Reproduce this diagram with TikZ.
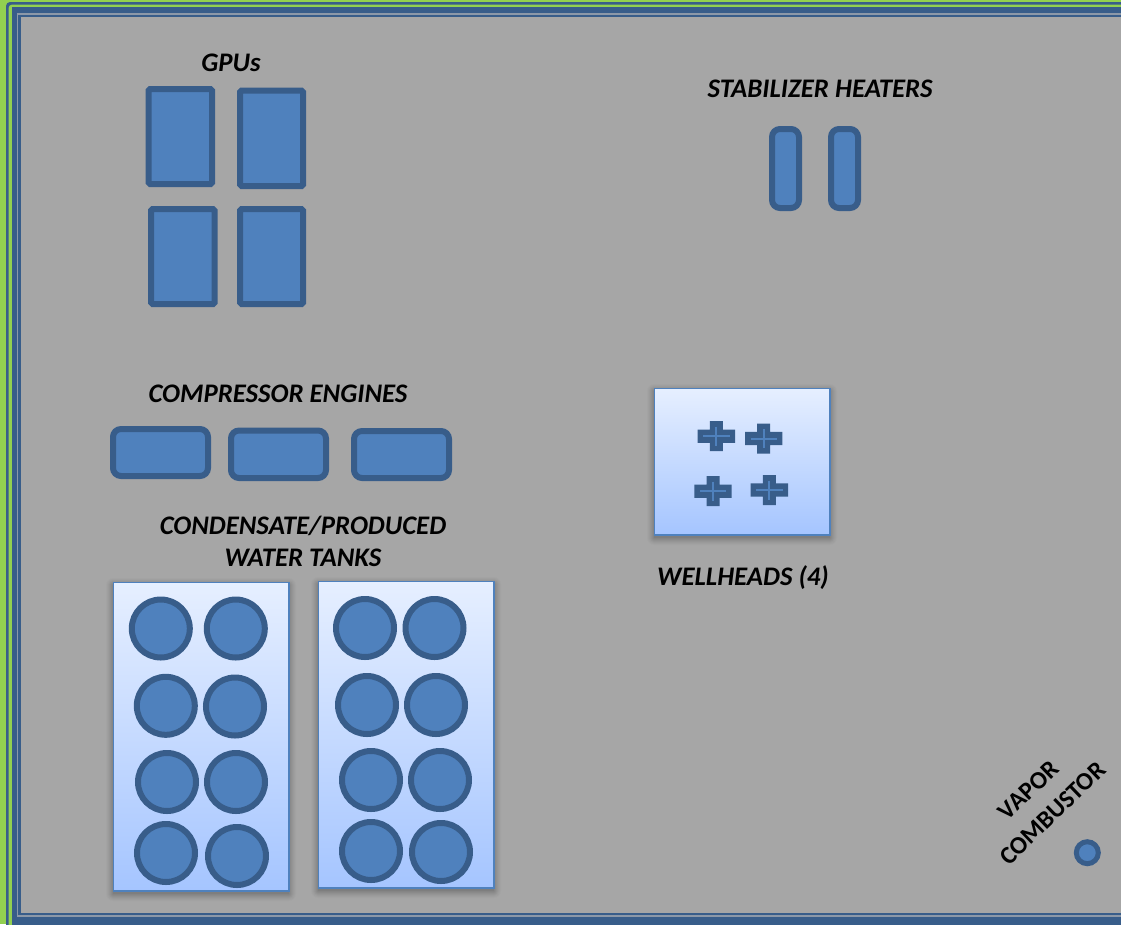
\documentclass[tikz,border=0pt]{standalone}
\usepackage{fontspec}
\setmainfont{Carlito}
\definecolor{bgc}{HTML}{A6A6A6}
\definecolor{fillb}{HTML}{4F81BD}
\definecolor{edgeb}{HTML}{385D8A}
\definecolor{greenf}{HTML}{92D050}
\definecolor{lightline}{HTML}{8C98A8}
\definecolor{paneltop}{HTML}{E6EFFF}
\definecolor{panelbot}{HTML}{A5C5FF}
\tikzset{
  lbl/.style={font=\fontsize{26.8}{26.8}\selectfont\bfseries\itshape, text=black, inner sep=0pt, align=center},
  rotlbl/.style={font=\fontsize{25}{25}\selectfont\bfseries, text=black, inner sep=0pt, rotate=44},
  unitbox/.style={draw=edgeb, fill=fillb, line width=6pt, rounded corners=1.5pt},
  roundbox/.style={draw=edgeb, fill=fillb, line width=6pt, rounded corners=8pt},
  tankc/.style={draw=edgeb, fill=fillb, line width=6pt},
  panelbox/.style={draw=fillb, line width=1.8pt, top color=paneltop, bottom color=panelbot},
}
\newcommand{\unitrect}[5][unitbox]{\draw[#1] (#2+3,#3+3) rectangle (#4-3,#5-3);}
\newcommand{\tankat}[2]{\draw[tankc] (#1,#2) circle[radius=29];}
\newcommand{\panelat}[4]{%
  \foreach \d/\o in {7/.015,6/.02,5/.025,4/.03,3/.03,2/.035,1/.04,0/.05}{
    \fill[black,opacity=\o,rounded corners=\d pt] (#1-\d,#2+3-\d) rectangle (#3+\d,#4+3+\d);}
  \draw[panelbox] (#1+.4,#2+.4) rectangle (#3-.4,#4-.4);}
\newcommand{\crossat}[2]{%
  \fill[edgeb] (#1-18.7,#2-6.7) -- (#1-6.5,#2-6.7) -- (#1-6.5,#2-15) -- (#1+6.5,#2-15) -- (#1+6.5,#2-6.7) -- (#1+18.7,#2-6.7)
    -- (#1+18.7,#2+6.7) -- (#1+6.5,#2+6.7) -- (#1+6.5,#2+15) -- (#1-6.5,#2+15) -- (#1-6.5,#2+6.7) -- (#1-18.7,#2+6.7) -- cycle;
  \draw[fillb,line width=2pt] (#1-13.2,#2) -- (#1+13.2,#2) (#1,#2-9.5) -- (#1,#2+9.5);}
\begin{document}
\begin{tikzpicture}[x=1pt,y=-1pt]
\useasboundingbox (0,0) rectangle (1121,924);
\clip (0,0) rectangle (1121,924);
% frame
\fill[greenf] (0,0) rectangle (1121,924);
\fill[edgeb,rounded corners=4pt] (6,2) rectangle (1140,940);
\fill[greenf,rounded corners=3pt] (8.7,4.7) rectangle (1140,940);
\fill[edgeb] (11.7,6.7) rectangle (1140,940);
\fill[lightline] (16.7,12.7) rectangle (1140,917.3);
\fill[edgeb] (18.3,14.7) rectangle (1140,915);
\fill[bgc] (20.7,17.3) rectangle (1140,912.7);
% GPUs
\unitrect{145.5}{86}{215}{187}
\unitrect{237}{87.5}{306}{189}
\unitrect{148}{206}{217.5}{307}
\unitrect{237}{206}{306}{307}
% Heaters
\unitrect[roundbox]{769}{126}{802}{211}
\unitrect[roundbox]{828}{126}{861}{211}
% Compressors
\unitrect[roundbox]{110}{426}{211}{479}
\unitrect[roundbox]{228}{427.5}{329}{481}
\unitrect[roundbox]{351}{428}{452}{481}
% Wellheads
\panelat{654}{388}{830}{535}
\crossat{716.3}{436.2}
\crossat{763.7}{438.5}
\crossat{713}{491.2}
\crossat{769.3}{490}
% Tanks
\panelat{113}{582}{289}{891}
\panelat{318}{581}{494}{888}
\tankat{160.8}{628.5}\tankat{235.8}{628.5}
\tankat{165.8}{705.8}\tankat{235}{706.5}
\tankat{167}{782}\tankat{236}{782}
\tankat{166}{853}\tankat{237}{856}
\tankat{365}{628}\tankat{434.5}{628}
\tankat{367}{705}\tankat{436}{705}
\tankat{371}{780}\tankat{440}{780}
\tankat{371}{851}\tankat{441}{852}
% Vapor combustor
\draw[edgeb,fill=fillb,line width=5pt] (1087.3,852.7) circle[radius=11];
% Labels
\node[lbl] (gpus) at (231,63) {GPUs};
\node[lbl] (stab) at (820,89) {STABILIZER HEATERS};
\node[lbl] (comp) at (278,394) {COMPRESSOR ENGINES};
\node[lbl] (cond) at (303,526) {CONDENSATE/PRODUCED};
\node[lbl] (water) at (303,558) {WATER TANKS};
\node[lbl] (well) at (743,578) {WELLHEADS (4)};
\node[rotlbl] (vapor) at (1028.5,790) {VAPOR};
\node[rotlbl] (combustor) at (1052.5,813.5) {COMBUSTOR};
\end{tikzpicture}
\end{document}
